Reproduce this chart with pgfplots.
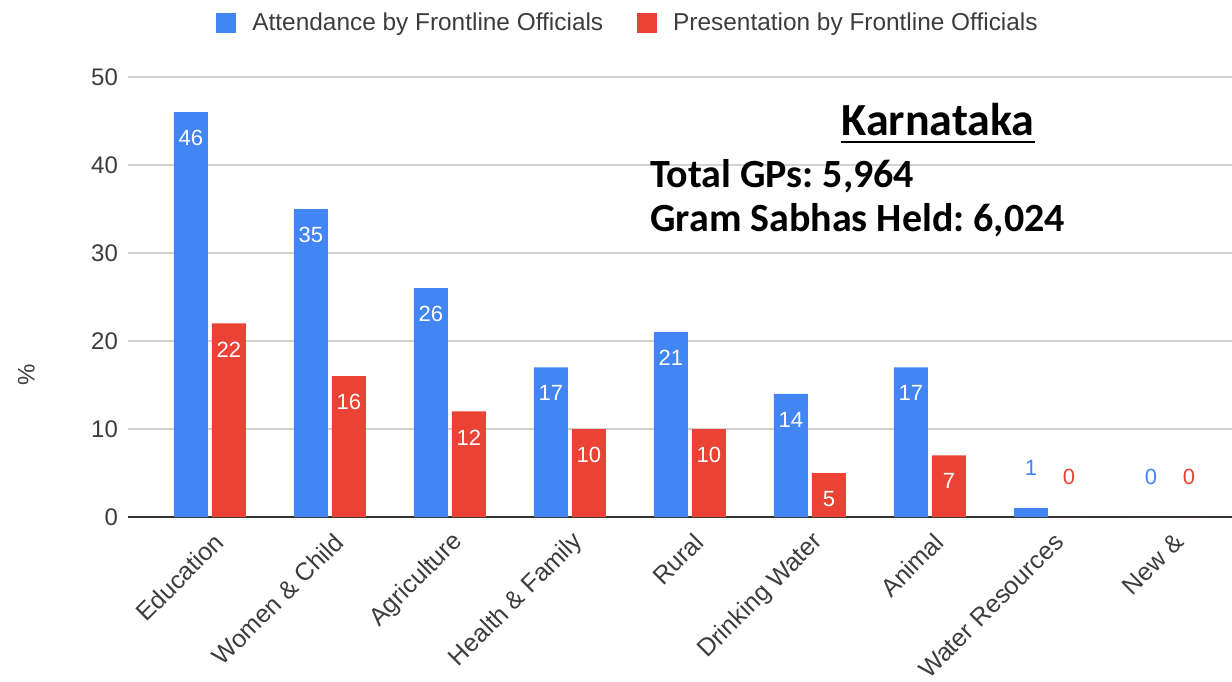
\documentclass[border=0pt]{standalone}
\usepackage{fontspec}
\setmainfont{Liberation Sans}
\newfontfamily\calib{Carlito}
\usepackage{pgfplots}
\pgfplotsset{compat=1.18}
\definecolor{gblue}{RGB}{66,133,244}
\definecolor{gred}{RGB}{234,67,53}
\definecolor{gridgray}{RGB}{210,210,210}
\definecolor{txtgray}{RGB}{60,60,60}
\frenchspacing

\begin{document}
\begin{tikzpicture}
\begin{axis}[
  name=ax,
  x=60pt, y=4.4pt,
  xmin=-0.683, xmax=8.517, ymin=0, ymax=50,
  ybar, bar width=17pt,
  clip=false,
  axis x line*=bottom, axis y line*=left,
  y axis line style={draw=none},
  x axis line style={black!80, line width=1pt},
  major tick length=0pt,
  ytick={0,10,...,50},
  ymajorgrids, grid style={gridgray, line width=0.7pt},
  xtick={0,...,8},
  xticklabels={Education, Women \& Child, Agriculture, Health \& Family, Rural,
    Drinking Water, Animal, Water Resources, New \&},
  tick label style={font=\fontsize{12}{14}\selectfont, text=txtgray},
  xticklabel style={xshift=7pt, yshift=-8pt, rotate=45, anchor=east,
    font=\fontsize{12.5}{15}\selectfont},
  yticklabel style={xshift=-1.5pt},
  /pgf/number format/assume math mode=true,
  ylabel={\%},
  ylabel style={at={(axis description cs:-0.092,0.323)}, anchor=center,
    font=\fontsize{12}{14}\selectfont, text=txtgray},
  legend style={draw=none, fill=none, at={(axis description cs:0.4538,1)},
    anchor=center, yshift=27pt, font=\fontsize{12.2}{14}\selectfont, text=txtgray,
    legend columns=2,
    /tikz/every odd column/.append style={column sep=6pt},
    /tikz/every even column/.append style={column sep=15pt}},
  legend cell align=left,
  nodes near coords style={font=\fontsize{11}{13}\selectfont, anchor=center},
]
  %% bars with labels inside
  \addplot[fill=gblue, draw=none, bar shift=-9.5pt,
    nodes near coords, nodes near coords style={white, yshift=-13pt},
    legend image code/.code={\fill[gblue] (0pt,-5pt) rectangle (10pt,5pt);}]
    coordinates {(0,46)(1,35)(2,26)(3,17)(4,21)(5,14)(6,17)};
  \addlegendentry{Attendance by Frontline Officials}
  \addplot[fill=gred, draw=none, bar shift=9.5pt,
    nodes near coords, nodes near coords style={white, yshift=-13pt},
    legend image code/.code={\fill[gred] (0pt,-5pt) rectangle (10pt,5pt);}]
    coordinates {(0,22)(1,16)(2,12)(3,10)(4,10)(5,5)(6,7)};
  \addlegendentry{Presentation by Frontline Officials}
  %% small values, labels above
  \addplot[fill=gblue, draw=none, bar shift=-9.5pt, forget plot,
    nodes near coords, nodes near coords style={gblue, yshift=20pt}]
    coordinates {(7,1)(8,0)};
  \addplot[fill=gred, draw=none, bar shift=9.5pt, forget plot,
    nodes near coords, nodes near coords style={gred, yshift=20pt}]
    coordinates {(7,0)(8,0)};

  \node (k) [anchor=base, inner sep=0pt, font=\calib\bfseries\fontsize{23}{27}\selectfont]
    at (axis cs:6.067,43.3) {Karnataka};
  \draw[line width=1.4pt] ([yshift=-3pt]k.base west) -- ([yshift=-3pt]k.base east);
  \node[anchor=base west, inner sep=0pt, font=\calib\bfseries\fontsize{20}{24}\selectfont]
    at (axis cs:3.667,37.39) {Total GPs: 5,964};
  \node[anchor=base west, inner sep=0pt, font=\calib\bfseries\fontsize{20}{24}\selectfont]
    at (axis cs:3.667,32.5) {Gram Sabhas Held: 6,024};
\end{axis}
\pgfresetboundingbox
\path[use as bounding box] ([xshift=-64pt,yshift=-82pt]ax.south west)
  rectangle ([yshift=38.5pt]ax.north east);
\end{tikzpicture}
\end{document}
